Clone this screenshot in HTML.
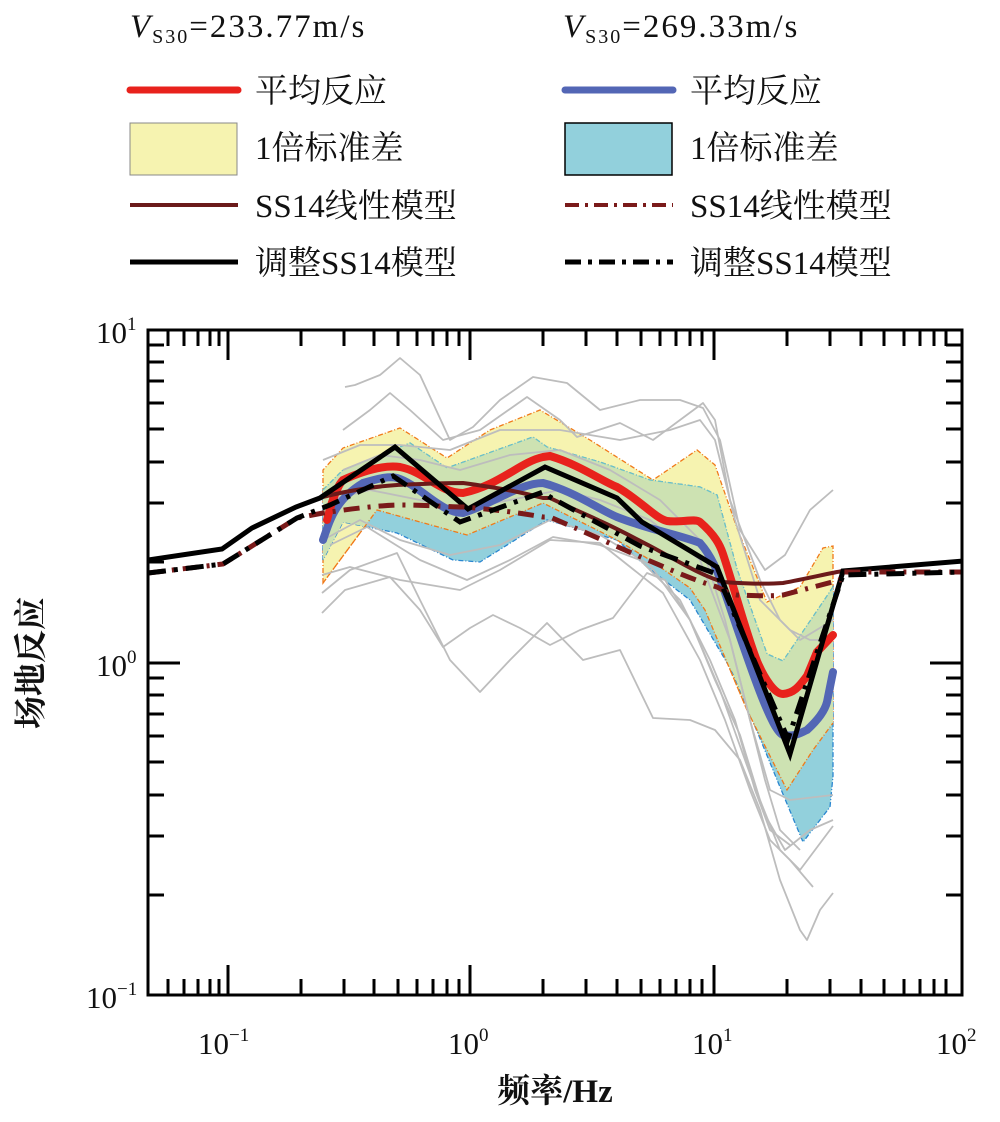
<!DOCTYPE html>
<html><head><meta charset="utf-8"><style>
html,body{margin:0;padding:0;background:#fff;}
svg text{font-family:"Liberation Serif","Noto Serif CJK SC",serif;fill:#111;}
</style></head><body>
<svg width="1000" height="1117" viewBox="0 0 1000 1117" xmlns="http://www.w3.org/2000/svg">
<defs>
<clipPath id="pa"><rect x="148" y="330" width="814" height="665"/></clipPath>
<clipPath id="cb"><path id="cbp" d="M323,490 L343,470 L410,443 L447,468 L533,437 L547,447 L600,462 L650,480 L700,487 L717,495 L737,569 L767,654 L783,661 L823,602 L833,587 L833,776 L830,807 L803,842 L780,787 L733,673 L690,600 L647,567 L617,540 L547,520 L480,562 L453,560 L397,533 L343,522 L323,560 Z"/></clipPath>
</defs>
<text x="130" y="37" font-size="33" letter-spacing="2"><tspan font-style="italic">V</tspan><tspan font-size="20" dy="6">S30</tspan><tspan dy="-6">=233.77m/s</tspan></text>
<text x="563" y="37" font-size="33" letter-spacing="2"><tspan font-style="italic">V</tspan><tspan font-size="20" dy="6">S30</tspan><tspan dy="-6">=269.33m/s</tspan></text>
<line x1="130" y1="90" x2="238" y2="90" stroke="#e8221c" stroke-width="7" stroke-linecap="round"/>
<text x="255" y="102" font-size="33">平均反应</text>
<rect x="130" y="123" width="107" height="52" fill="#f6f3b0" stroke="#888" stroke-width="1"/>
<text x="255" y="159" font-size="33">1倍标准差</text>
<line x1="130" y1="205" x2="238" y2="205" stroke="#6b1a1a" stroke-width="4"/>
<text x="255" y="217" font-size="33">SS14线性模型</text>
<line x1="130" y1="262" x2="238" y2="262" stroke="#000" stroke-width="5"/>
<text x="255" y="274" font-size="33">调整SS14模型</text>

<line x1="565" y1="90" x2="673" y2="90" stroke="#5366b5" stroke-width="7" stroke-linecap="round"/>
<text x="690" y="102" font-size="33">平均反应</text>
<rect x="565" y="123" width="107" height="52" fill="#92d0dc" stroke="#000" stroke-width="1.5"/>
<text x="690" y="159" font-size="33">1倍标准差</text>
<line x1="565" y1="205" x2="673" y2="205" stroke="#7a1a1a" stroke-width="4" stroke-dasharray="14,6,3,6"/>
<text x="690" y="217" font-size="33">SS14线性模型</text>
<line x1="565" y1="262" x2="673" y2="262" stroke="#000" stroke-width="5" stroke-dasharray="16,7,4,7"/>
<text x="690" y="274" font-size="33">调整SS14模型</text>

<g clip-path="url(#pa)">
<path d="M323,583 L323,470 L343,448 L400,428 L447,458 L490,430 L540,410 L590,440 L653,480 L697,450 L715,465 L737,528 L767,602 L800,587 L823,548 L833,546 L833,723 L813,750 L787,790 L747,710 L705,610 L690,588 L650,560 L617,540 L543,503 L467,535 L377,510 Z" fill="#f6f3b0" stroke="#f07a1a" stroke-width="1.3" stroke-dasharray="5,2,1,2"/>
<use href="#cbp" fill="#92d0dc" stroke="#2a86d0" stroke-width="1.3" stroke-dasharray="5,2,1,2"/>
<path clip-path="url(#cb)" d="M323,583 L323,470 L343,448 L400,428 L447,458 L490,430 L540,410 L590,440 L653,480 L697,450 L715,465 L737,528 L767,602 L800,587 L823,548 L833,546 L833,723 L813,750 L787,790 L747,710 L705,610 L690,588 L650,560 L617,540 L543,503 L467,535 L377,510 Z" fill="#cde2b2"/>
<path d="M323,490 L343,470 L410,443 L447,468 L533,437 L547,447 L600,462 L650,480 L700,487 L717,495 L737,569 L767,654 L783,661 L823,602 L833,587" fill="none" stroke="#6cc2c8" stroke-width="1.2" stroke-dasharray="5,2,1,2"/>
<path d="M323,583 L377,510 L467,535 L543,503 L617,540 L650,560 L690,588 L705,610 L747,710 L787,790 L813,750 L833,723" fill="none" stroke="#f07a1a" stroke-width="1.3" stroke-dasharray="5,2,1,2"/>
<g fill="none" stroke="#bdbdbd" stroke-width="1.8" stroke-linejoin="round">
<path d="M345,387 L355,385 L380,375 L400,358 L420,375 L450,440 L473,427 L500,400 L533,377 L567,383 L600,410 L640,400 L680,400 L703,408 L720,440 L740,530 L765,570 L785,555 L810,510 L833,490"/>
<path d="M343,430 L370,410 L390,393 L410,410 L443,440 L480,430 L527,397 L560,420 L577,437 L620,423 L653,440 L680,420 L703,403 L715,420 L730,500 L760,580 L780,620 L800,640 L833,620"/>
<path d="M323,460 L360,445 L400,445 L450,450 L500,430 L560,430 L620,440 L670,430 L700,420 L715,440 L735,520 L760,600 L790,630 L810,640 L833,640"/>
<path d="M322,613 L345,590 L390,577 L420,610 L443,647 L470,628 L493,615 L520,628 L550,645 L580,630 L613,618 L647,573 L665,580 L690,620 L715,680 L740,735 L760,800 L780,850 L800,870 L833,826"/>
<path d="M322,593 L350,570 L397,553 L420,600 L450,660 L480,692 L510,660 L547,623 L583,660 L620,650 L653,718 L690,720 L715,730 L740,760 L760,810 L780,880 L800,930 L807,940 L820,910 L833,893"/>
<path d="M322,575 L350,567 L400,580 L460,590 L500,570 L550,540 L600,543 L663,593 L700,660 L725,720 L750,790 L770,840 L790,860 L813,887"/>
<path d="M330,545 L367,527 L420,560 L467,580 L510,560 L553,537 L600,545 L640,560 L680,600 L710,660 L735,720 L755,790 L770,830 L790,845"/>
<path d="M323,540 L360,520 L400,540 L450,555 L500,545 L550,520 L600,535 L650,565 L690,620 L720,690 L745,760 L765,815 L785,850 L810,830 L833,820"/>
<path d="M343,470 L380,455 L420,460 L460,470 L510,455 L560,450 L610,470 L660,500 L700,540 L725,620 L745,700 L765,780 L780,830 L800,850"/>
<path d="M330,500 L370,490 L420,500 L460,510 L510,500 L560,490 L600,500 L650,520 L700,560 L730,640 L750,720 L770,790 L790,800 L833,795"/>
</g>
<path d="M323,540 C330,520 335,500 363,483 C380,478 390,476 397,478 C420,485 440,513 463,513 C490,505 520,483 543,483 L550,485 C580,495 600,510 617,517 C650,530 680,535 700,543 C715,560 720,580 723,587 C745,650 770,730 783,735 C795,737 800,733 807,730 C818,720 825,710 827,702 L833,672" fill="none" stroke="#5366b5" stroke-width="8" stroke-linecap="round"/>
<path d="M327,520 C332,500 338,485 343,480 C365,470 385,465 400,467 C425,472 440,493 463,493 C500,485 520,462 543,457 L550,456 C580,465 600,480 617,487 C640,500 655,518 667,521 C680,523 695,518 700,522 C715,535 720,545 723,554 C735,590 745,630 757,661 C765,680 775,694 783,694 C795,693 800,685 807,676 L817,652 L833,635" fill="none" stroke="#e8221c" stroke-width="8" stroke-linecap="round"/>
<path d="M148,560 L222,549 L252,528 L296,507 L323,497 C350,490 380,486 397,485 C420,484 440,483 463,483 C500,488 520,492 543,498 L550,498 C575,510 590,516 600,521 C620,530 640,541 650,546 C680,562 700,575 723,582 C750,584 770,584 783,583 C810,578 830,573 843,571 L963,561" fill="none" stroke="#6b1a1a" stroke-width="4"/>
<path d="M148,560 L222,549 L252,528 L296,507 L320,498 L395,447 L468,509 L545,467 L617,498 L642,522 L717,567 L790,754 L843,571 L963,561" fill="none" stroke="#000" stroke-width="5"/>
<path d="M148,573 L223,564 L297,518 L323,513 C350,509 380,505 403,505 C430,505 450,507 463,507 C500,510 520,513 543,517 L550,517 C580,530 620,548 650,561 C680,574 700,582 717,587 C725,591 730,594 737,595 C760,596 775,596 783,595 L840,580 L843,572 L963,572" fill="none" stroke="#7a1a1a" stroke-width="5" stroke-dasharray="16,8,3,8"/>
<path d="M148,573 L223,564 L297,518 L330,505 L393,476 L460,522 L543,492 L550,497 L640,546 L717,574 L788,739 L843,575 L963,572" fill="none" stroke="#000" stroke-width="5" stroke-dasharray="18,8,4,8"/>
</g>

<rect x="148" y="330" width="814" height="665" fill="none" stroke="#000" stroke-width="3"/>
<g stroke="#000" stroke-width="3">
<path d="M148,663 H180 M962,663 H930 M148,330 H180 M962,330 H930 M148,995 H180 M962,995 H930"/>
<path d="M148,345 H164 M148,362 H164 M148,381 H164 M148,403 H164 M148,429 H164 M148,462 H164 M148,503 H164 M148,562 H164
M148,678 H164 M148,695 H164 M148,714 H164 M148,736 H164 M148,762 H164 M148,795 H164 M148,836 H164 M148,895 H164
M962,345 H946 M962,362 H946 M962,381 H946 M962,403 H946 M962,429 H946 M962,462 H946 M962,503 H946 M962,562 H946
M962,678 H946 M962,695 H946 M962,714 H946 M962,736 H946 M962,762 H946 M962,795 H946 M962,836 H946 M962,895 H946"/>
<path d="M228,330 V360 M470,330 V360 M714,330 V360 M228,995 V965 M470,995 V965 M714,995 V965"/>
<path d="M168,330 V346 M184,330 V346 M198,330 V346 M210,330 V346 M219,330 V346
M301,330 V346 M344,330 V346 M374,330 V346 M398,330 V346 M417,330 V346 M433,330 V346 M447,330 V346 M459,330 V346
M543,330 V346 M586,330 V346 M617,330 V346 M641,330 V346 M660,330 V346 M676,330 V346 M690,330 V346 M702,330 V346
M787,330 V346 M830,330 V346 M861,330 V346 M884,330 V346 M904,330 V346 M920,330 V346 M934,330 V346 M946,330 V346
M168,995 V979 M184,995 V979 M198,995 V979 M210,995 V979 M219,995 V979
M301,995 V979 M344,995 V979 M374,995 V979 M398,995 V979 M417,995 V979 M433,995 V979 M447,995 V979 M459,995 V979
M543,995 V979 M586,995 V979 M617,995 V979 M641,995 V979 M660,995 V979 M676,995 V979 M690,995 V979 M702,995 V979
M787,995 V979 M830,995 V979 M861,995 V979 M884,995 V979 M904,995 V979 M920,995 V979 M934,995 V979 M946,995 V979"/>
</g>
<g font-size="31">
<text x="96" y="343">10<tspan font-size="19" dy="-13">1</tspan></text>
<text x="96" y="676">10<tspan font-size="19" dy="-13">0</tspan></text>
<text x="86" y="1008">10<tspan font-size="19" dy="-13">−1</tspan></text>
<text x="198" y="1054">10<tspan font-size="19" dy="-13">−1</tspan></text>
<text x="448" y="1054">10<tspan font-size="19" dy="-13">0</tspan></text>
<text x="692" y="1054">10<tspan font-size="19" dy="-13">1</tspan></text>
<text x="936" y="1054">10<tspan font-size="19" dy="-13">2</tspan></text>
</g>
<text x="555" y="1102" font-size="33" font-weight="bold" text-anchor="middle">频率/Hz</text>
<text transform="translate(42,663) rotate(-90)" font-size="33" font-weight="bold" text-anchor="middle">场地反应</text>
</svg>
</body></html>
